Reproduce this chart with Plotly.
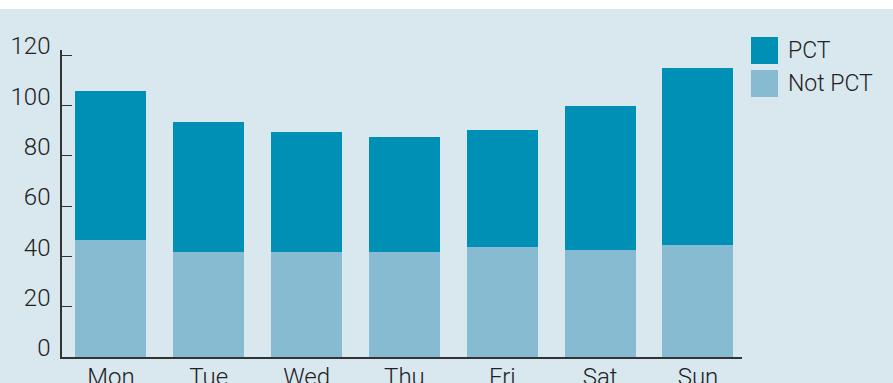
import plotly.graph_objects as go

days = ["Mon", "Tue", "Wed", "Thu", "Fri", "Sat", "Sun"]
not_pct = [46.6, 41.8, 41.8, 41.8, 43.9, 42.6, 44.6]
pct = [59.2, 51.7, 47.7, 45.7, 46.4, 57.3, 70.4]
y_ticks = [0, 20, 40, 60, 80, 100, 120]

C_PCT = "#008fb5"
C_NOT = "#86bbd1"
BG = "#d9e7ee"
TXT = "#222222"
FONT = "Roboto"

fig = go.Figure()
fig.add_trace(go.Bar(x=days, y=not_pct, name="Not PCT", marker=dict(color=C_NOT, line=dict(width=0))))
fig.add_trace(go.Bar(x=days, y=pct, name="PCT", marker=dict(color=C_PCT, line=dict(width=0))))

fig.update_layout(
    width=893, height=383,
    barmode="stack", bargap=0.274,
    paper_bgcolor=BG, plot_bgcolor=BG,
    margin=dict(l=62, r=151, t=50, b=26),
    showlegend=False,
    font=dict(family=FONT, size=24, color=TXT, weight=300),
    xaxis=dict(range=[-0.5, 6.45], showline=True, linecolor="#333333", linewidth=1.5, ticks="",
               showgrid=False, zeroline=False, tickfont=dict(size=24, color=TXT, weight=300),
               ticklabelstandoff=-3, automargin=False),
    yaxis=dict(range=[0, 122], tickvals=y_ticks, showline=True, linecolor="#333333",
               linewidth=1.5, ticks="inside", ticklen=10, tickwidth=1.2, tickcolor="#333333",
               showgrid=False, zeroline=False, tickfont=dict(size=24, color=TXT, weight=300),
               ticklabelstandoff=5, ticklabelshift=-9, automargin=False),
)

# white strip at the top
fig.add_shape(type="rect", xref="paper", yref="paper", x0=-0.2, x1=1.3,
              y0=1 + 41 / 307, y1=1.3, fillcolor="white", line=dict(width=0), layer="below")

# custom legend
for i, (lab, col) in enumerate([("PCT", C_PCT), ("Not PCT", C_NOT)]):
    ytop = 37 + i * 33
    fig.add_shape(type="rect", xref="paper", yref="paper",
                  x0=(751 - 62) / 680, x1=(778 - 62) / 680,
                  y0=(357 - ytop - 27) / 307, y1=(357 - ytop) / 307,
                  fillcolor=col, line=dict(width=0))
    fig.add_annotation(xref="paper", yref="paper", x=(786 - 62) / 680,
                       y=(357 - ytop - 13.5) / 307, text=lab, showarrow=False,
                       xanchor="left", yanchor="middle",
                       font=dict(family=FONT, size=23, color=TXT, weight=300))

fig.write_html("out.html")
